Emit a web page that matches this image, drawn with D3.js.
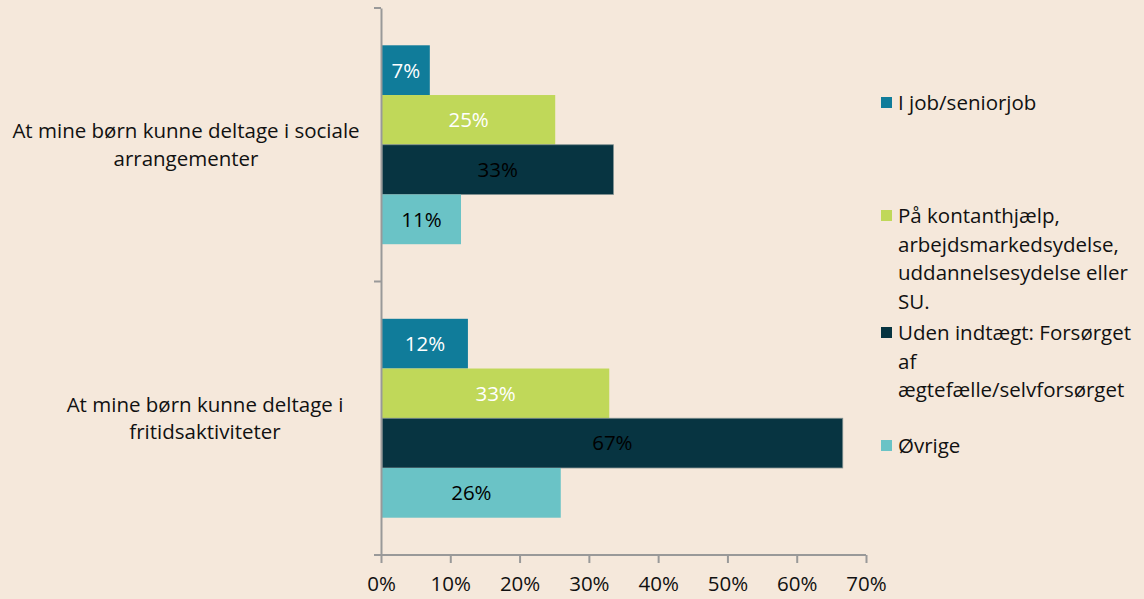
<!DOCTYPE html>
<html>
<head>
<meta charset="utf-8">
<script src="https://cdn.jsdelivr.net/npm/d3@7"></script>
<style>
  body { margin: 0; background: #f5e8db; }
  svg { display: block; font-family: "Open Sans", "Noto Sans", sans-serif; }
</style>
</head>
<body>
<script>
// data
var categories = ["sociale", "fritid"];
var categoryLines = [
  ["At mine børn kunne deltage i sociale", "arrangementer"],
  ["At mine børn kunne deltage i", "fritidsaktiviteter"]
];
var seriesNames = ["job", "kontant", "uden", "ovrige"];
var legendLines = [
  ["I job/seniorjob"],
  ["På kontanthjælp,", "arbejdsmarkedsydelse,", "uddannelsesydelse eller", "SU."],
  ["Uden indtægt: Forsørget", "af", "ægtefælle/selvforsørget"],
  ["Øvrige"]
];
var jobValues    = [6.9, 12.4];
var kontantValues = [25.0, 32.8];
var udenValues   = [33.4, 66.5];
var ovrigeValues = [11.4, 25.8];
var xTicks = [0, 10, 20, 30, 40, 50, 60, 70];

var colors = ["#107c9a", "#c0d859", "#073441", "#6ac3c6"];
var labelColors = ["#ffffff", "#ffffff", "#000000", "#000000"];

var svgWidth = 1144, svgHeight = 599;
var margin = { top: 8, left: 381, bottom: 44 };
var axisColor = "#999";
var fontSize = 20.5;

var svg = d3.select("body").append("svg")
  .attr("width", svgWidth)
  .attr("height", svgHeight);

svg.append("rect").attr("width", svgWidth).attr("height", svgHeight).attr("fill", "#f5e8db");

var x = d3.scaleLinear().domain([0, 70]).range([margin.left, 866]);
var y = d3.scaleBand().domain(categories).range([margin.top, svgHeight - margin.bottom]);
var yInner = d3.scaleBand().domain(seriesNames).range([0, y.bandwidth()]).paddingOuter(0.75);

var allValues = [jobValues, kontantValues, udenValues, ovrigeValues];
var rows = [];
categories.forEach(function(c, ci) {
  seriesNames.forEach(function(s, si) {
    rows.push({ cat: c, ci: ci, series: s, si: si, value: allValues[si][ci] });
  });
});

// bars
var bars = svg.append("g");
bars.selectAll("rect")
  .data(rows)
  .enter()
  .append("rect")
    .attr("x", x(0) + 1)
    .attr("y", d => y(d.cat) + yInner(d.series))
    .attr("width", d => x(d.value) - x(0))
    .attr("height", yInner.bandwidth())
    .attr("fill", d => colors[d.si])
    .attr("stroke", d => d.si === 2 ? "#7f8f90" : "none")
    .attr("stroke-width", 0.8);

bars.selectAll("text")
  .data(rows)
  .enter()
  .append("text")
    .attr("x", d => x(0) + 1 + (x(d.value) - x(0)) / 2)
    .attr("y", d => y(d.cat) + yInner(d.series) + yInner.bandwidth() / 2)
    .attr("dy", "0.36em")
    .attr("text-anchor", "middle")
    .attr("font-size", fontSize)
    .attr("fill", d => labelColors[d.si])
    .text(d => Math.round(d.value) + "%");

// y axis
var yAxis = d3.axisLeft(y).tickSizeInner(0).tickSizeOuter(0).tickFormat("");
var yAxisG = svg.append("g")
  .attr("transform", `translate(${margin.left},0)`)
  .call(yAxis);
yAxisG.select(".domain").attr("stroke", axisColor).attr("stroke-width", 2);
// category boundary ticks
var boundaries = [y.range()[0]].concat(categories.map(c => y(c) + y.bandwidth()));
yAxisG.selectAll(".bound")
  .data(boundaries)
  .enter()
  .append("line")
    .attr("x1", -7).attr("x2", 0)
    .attr("y1", d => d).attr("y2", d => d)
    .attr("stroke", axisColor).attr("stroke-width", 2);

// x axis
var xAxis = d3.axisBottom(x).tickValues(xTicks).tickSizeInner(8).tickSizeOuter(0).tickPadding(13)
  .tickFormat(d => d + "%");
var xAxisG = svg.append("g")
  .attr("transform", `translate(0,${svgHeight - margin.bottom})`)
  .call(xAxis);
xAxisG.select(".domain").attr("stroke", axisColor).attr("stroke-width", 2)
  .attr("d", `M${x(0) - 7},0H${x(70)}`);
xAxisG.selectAll(".tick line").attr("stroke", axisColor).attr("stroke-width", 2);
xAxisG.selectAll(".tick text").attr("font-size", fontSize).attr("fill", "#111")
  .style("font-family", "'Open Sans', 'Noto Sans', sans-serif");

// category labels (centred lines)
var labelCenters = [186, 205];
var lineH = 27.5;
categoryLines.forEach(function(lines, ci) {
  var cy = y(categories[ci]) + y.bandwidth() / 2;
  var t = svg.append("text")
    .attr("text-anchor", "middle")
    .attr("font-size", fontSize)
    .attr("fill", "#111");
  lines.forEach(function(l, li) {
    t.append("tspan")
      .attr("x", labelCenters[ci])
      .attr("y", cy + (li - (lines.length - 1) / 2) * lineH)
      .attr("dy", "0.36em")
      .text(l);
  });
});

// legend
var legendTops = [103, 216, 333, 446];
var legend = svg.append("g");
legendLines.forEach(function(lines, i) {
  legend.append("rect")
    .attr("x", 881).attr("y", legendTops[i] - 6)
    .attr("width", 11).attr("height", 11)
    .attr("fill", colors[i]);
  var t = legend.append("text").attr("font-size", fontSize).attr("fill", "#111");
  lines.forEach(function(l, li) {
    t.append("tspan")
      .attr("x", 898)
      .attr("y", legendTops[i] + li * 28.5)
      .attr("dy", "0.36em")
      .text(l);
  });
});
</script>
</body>
</html>
